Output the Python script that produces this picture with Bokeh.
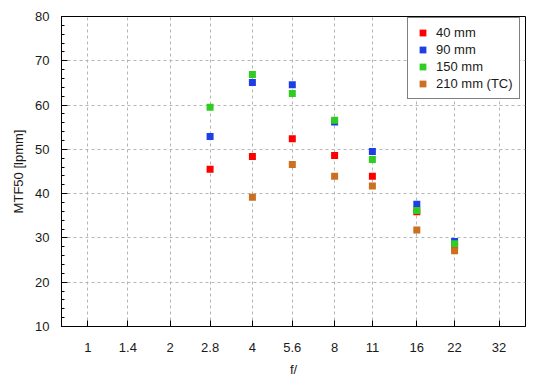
from bokeh.plotting import figure
from bokeh.embed import file_html
from bokeh.resources import INLINE
from bokeh.models import FixedTicker, Range1d

# f-stop ticks
fstop_ticks = [1, 1.4, 2, 2.8, 4, 5.6, 8, 11, 16, 22, 32]
fstop_labels = ["1", "1.4", "2", "2.8", "4", "5.6", "8", "11", "16", "22", "32"]

apertures = [2.8, 4, 5.6, 8, 11, 16, 22]
mtf_40 = [45.5, 48.4, 52.4, 48.6, 43.9, 35.9, 28.0]
mtf_90 = [52.9, 65.1, 64.6, 56.2, 49.5, 37.6, 29.2]
mtf_150 = [59.5, 66.9, 62.6, 56.6, 47.7, 36.2, 28.7]
apertures_210 = [4, 5.6, 8, 11, 16, 22]
mtf_210 = [39.2, 46.6, 43.9, 41.7, 31.8, 27.1]

series = [
    ("40 mm", apertures, mtf_40, "#ff0000"),
    ("90 mm", apertures, mtf_90, "#1f3fe6"),
    ("150 mm", apertures, mtf_150, "#2fcc22"),
    ("210 mm (TC)", apertures_210, mtf_210, "#cc6f1f"),
]

FONT = "Liberation Sans"

p = figure(
    x_axis_type="log",
    width=542, height=380,
    min_border_left=61, min_border_right=17, min_border_top=16, min_border_bottom=54,
    x_range=Range1d(0.8, 40), y_range=Range1d(10, 80),
    output_backend="svg", toolbar_location=None,
    background_fill_color="white", border_fill_color="white",
)

for label, xs, ys, color in series:
    p.scatter(xs, ys, marker="square", size=7, fill_color=color, line_color=None,
              legend_label=label)

p.outline_line_color = "black"
p.outline_line_width = 1

# axes
p.xaxis.ticker = FixedTicker(ticks=fstop_ticks)
p.xaxis.major_label_overrides = {t: l for t, l in zip(fstop_ticks, fstop_labels)}
p.yaxis.ticker = FixedTicker(ticks=[10, 20, 30, 40, 50, 60, 70, 80],
                             minor_ticks=[v for v in range(10, 81, 2)])
for ax in (p.xaxis[0], p.yaxis[0]):
    ax.axis_line_color = "black"
    ax.major_tick_in = 6
    ax.major_tick_out = 0
    ax.major_tick_line_color = "black"
    ax.major_label_text_font = FONT
    ax.major_label_text_font_size = "13px"
    ax.major_label_text_color = "#1a1a1a"
    ax.axis_label_text_font = FONT
    ax.axis_label_text_font_size = "13px"
    ax.axis_label_text_font_style = "normal"
    ax.axis_label_text_color = "#1a1a1a"
p.xaxis.minor_tick_line_color = None
p.yaxis.minor_tick_in = 3
p.yaxis.minor_tick_out = 0
p.yaxis.minor_tick_line_color = "black"
p.xaxis.axis_label = "f/"
p.yaxis.axis_label = "MTF50 [lpmm]"
p.yaxis.major_label_standoff = 12
p.xaxis.major_label_standoff = 16
p.yaxis.axis_label_standoff = 6
p.xaxis.axis_label_standoff = 7

# grid
for g in (p.xgrid[0], p.ygrid[0]):
    g.grid_line_color = "#b4b4b4"
    g.grid_line_dash = "3 3"
    g.grid_line_width = 1

# legend
lg = p.legend[0]
lg.location = (346, 227)
lg.border_line_color = "black"
lg.border_line_width = 1
lg.background_fill_color = "white"
lg.background_fill_alpha = 1
lg.padding = 6
lg.spacing = 0
lg.margin = 0
lg.glyph_width = 17
lg.glyph_height = 17
lg.label_height = 17
lg.label_standoff = 5
lg.label_text_font = FONT
lg.label_text_font_size = "13px"
lg.label_text_color = "#1a1a1a"

open("out.html", "w").write(file_html(p, INLINE))
